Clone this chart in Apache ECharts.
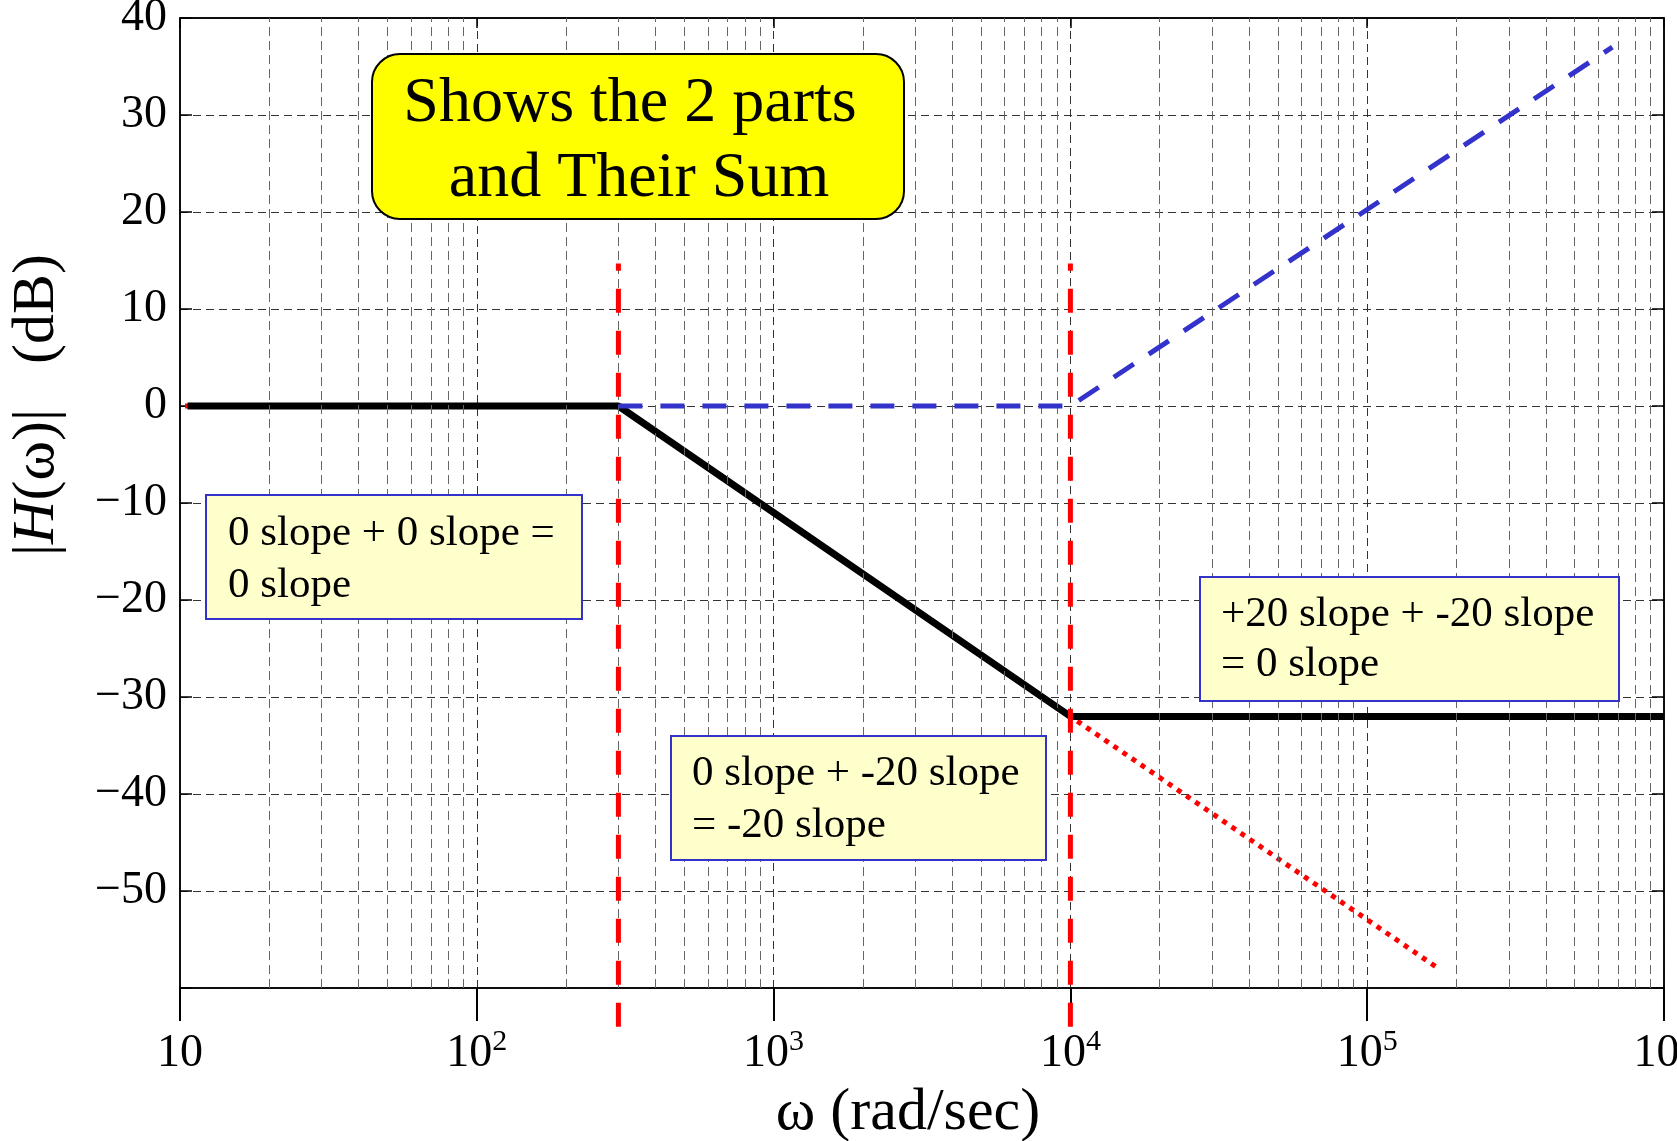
<!DOCTYPE html>
<html>
<head>
<meta charset="utf-8">
<title>Asymptotic magnitude plot</title>
<script src="https://cdn.jsdelivr.net/npm/echarts@6/dist/echarts.min.js"></script>
<style>
  html, body { margin: 0; padding: 0; background: #fff; }
  #chart { width: 1677px; height: 1141px; }
</style>
</head>
<body>
<div id="chart"></div>
<script>
// Sum of the two asymptotes (solid black)
const sumOmega = [10.6, 300, 1e4, 1e6];
const sumDb = [0, 0, -32, -32];
// Low-pass part (red dotted)
const lowOmega = [10.4, 300, 1e4, 1.74e5];
const lowDb = [0, 0, -32, -58];
// High-pass part (blue dashed)
const highOmega = [300, 1e4, 6.7e5];
const highDb = [0, 0, 37];
// Corner frequencies and the vertical extent of their markers (dB)
const cornerOmega = [300, 1e4];
const cornerDb = [-64, 14.7];
// Axis ranges
const decades = [10, 100, 1000, 1e4, 1e5, 1e6];
const yMin = -60, yMax = 40, yStep = 10;

const SERIF = '"Liberation Serif", "Times New Roman", serif';

const pairs = (xs, ys) => xs.map((x, i) => [x, ys[i]]);

// Minor log gridlines at 2..9 x 10^n
const minorGrid = [];
for (let d = 0; d < decades.length - 1; d++) {
  for (let k = 2; k <= 9; k++) minorGrid.push({ xAxis: k * decades[d] });
}

const chart = echarts.init(document.getElementById('chart'), null, { renderer: 'canvas' });

const gridDash = { type: [8, 5], color: '#333', width: 1 };

const option = {
  animation: false,
  backgroundColor: '#fff',
  grid: {
    left: 180, right: 13, top: 18, bottom: 153,
    containLabel: false, outerBoundsMode: 'none',
    show: true, borderColor: '#000', borderWidth: 1.5, backgroundColor: 'transparent'
  },
  xAxis: [{
    type: 'log', logBase: 10, min: decades[0], max: decades[decades.length - 1],
    splitNumber: 5,
    axisLine: { show: true, onZero: false, lineStyle: { color: '#000', width: 1.5 } },
    axisTick: { show: true, inside: false, length: 33, lineStyle: { color: '#000', width: 2 } },
    axisLabel: {
      margin: 39,
      formatter: function (v) {
        const e = Math.round(Math.log10(v));
        return e === 1 ? '{b|10}' : '{b|10}{s|' + e + '}';
      },
      rich: {
        b: { fontFamily: SERIF, fontSize: 46, lineHeight: 50, color: '#000', verticalAlign: 'bottom' },
        s: { fontFamily: SERIF, fontSize: 30, lineHeight: 30, color: '#000', verticalAlign: 'top' }
      }
    },
    splitLine: { show: true, lineStyle: gridDash }
  }, {
    type: 'log', logBase: 10, min: decades[0], max: decades[decades.length - 1],
    splitNumber: 5, position: 'top',
    axisLine: { show: true, onZero: false, lineStyle: { color: '#000', width: 1.5 } },
    axisTick: { show: true, inside: true, length: 10, lineStyle: { color: '#000', width: 1.5 } },
    axisLabel: { show: false },
    splitLine: { show: false }
  }],
  yAxis: [{
    type: 'value', min: yMin, max: yMax, interval: yStep,
    axisLine: { show: true, onZero: false, lineStyle: { color: '#000', width: 1.5 } },
    axisTick: { show: true, inside: true, length: 12, lineStyle: { color: '#000', width: 1.5 } },
    axisLabel: {
      margin: 13, fontFamily: SERIF, fontSize: 46, color: '#000',
      formatter: v => v === yMin ? '' : (v < 0 ? '\u2212' + (-v) : String(v))
    },
    splitLine: { show: true, lineStyle: gridDash }
  }, {
    type: 'value', min: yMin, max: yMax, interval: yStep, position: 'right',
    axisLine: { show: true, onZero: false, lineStyle: { color: '#000', width: 1.5 } },
    axisTick: { show: true, inside: true, length: 12, lineStyle: { color: '#000', width: 1.5 } },
    axisLabel: { show: false },
    splitLine: { show: false }
  }],
  series: [
    {
      // minor log gridlines
      type: 'line', data: [], silent: true,
      markLine: {
        silent: true, animation: false, symbol: ['none', 'none'],
        label: { show: false },
        lineStyle: { type: [9, 5], color: '#666', width: 1 },
        data: minorGrid
      },
      z: 1
    },
    {
      name: 'low', type: 'line', data: pairs(lowOmega, lowDb), symbol: 'none',
      lineStyle: { color: '#ff0000', width: 5, type: [5, 6], cap: 'butt' }, z: 3
    },
    {
      name: 'sum', type: 'line', data: pairs(sumOmega, sumDb), symbol: 'none',
      lineStyle: { color: '#000', width: 7, type: 'solid' }, z: 4
    },
    {
      name: 'high', type: 'line', data: pairs(highOmega, highDb), symbol: 'none',
      lineStyle: { color: '#3333cc', width: 5, type: [24, 18], cap: 'butt' }, z: 5
    },
    ...cornerOmega.map(w => ({
      type: 'line', data: [[w, cornerDb[0]], [w, cornerDb[1]]], symbol: 'none', clip: false,
      lineStyle: { color: '#ff0000', width: 5, type: [24, 18], cap: 'butt' }, z: 6
    }))
  ],
  graphic: [
    // title box
    { type: 'rect', shape: { x: 372, y: 54, width: 532, height: 165, r: 28 },
      style: { fill: '#ffff00', stroke: '#000', lineWidth: 2 }, z: 100 },
    { type: 'text', x: 630, y: 104, z: 101,
      style: { text: 'Shows the 2 parts', font: '64px ' + SERIF, fill: '#000', textAlign: 'center', textVerticalAlign: 'middle' } },
    { type: 'text', x: 639, y: 179, z: 101,
      style: { text: 'and Their Sum', font: '64px ' + SERIF, fill: '#000', textAlign: 'center', textVerticalAlign: 'middle' } },

    // region notes
    { type: 'rect', shape: { x: 206, y: 495, width: 376, height: 124 },
      style: { fill: '#ffffcc', stroke: '#3333cc', lineWidth: 2 }, z: 100 },
    { type: 'text', x: 228, y: 534, z: 101,
      style: { text: '0 slope + 0 slope =', font: '43px ' + SERIF, fill: '#000', textAlign: 'left', textVerticalAlign: 'middle' } },
    { type: 'text', x: 228, y: 586, z: 101,
      style: { text: '0 slope', font: '43px ' + SERIF, fill: '#000', textAlign: 'left', textVerticalAlign: 'middle' } },

    { type: 'rect', shape: { x: 671, y: 736, width: 375, height: 124 },
      style: { fill: '#ffffcc', stroke: '#3333cc', lineWidth: 2 }, z: 100 },
    { type: 'text', x: 692, y: 774, z: 101,
      style: { text: '0 slope + -20 slope', font: '43px ' + SERIF, fill: '#000', textAlign: 'left', textVerticalAlign: 'middle' } },
    { type: 'text', x: 692, y: 826, z: 101,
      style: { text: '= -20 slope', font: '43px ' + SERIF, fill: '#000', textAlign: 'left', textVerticalAlign: 'middle' } },

    { type: 'rect', shape: { x: 1200, y: 577, width: 419, height: 124 },
      style: { fill: '#ffffcc', stroke: '#3333cc', lineWidth: 2 }, z: 100 },
    { type: 'text', x: 1221, y: 615, z: 101,
      style: { text: '+20 slope + -20 slope', font: '43px ' + SERIF, fill: '#000', textAlign: 'left', textVerticalAlign: 'middle' } },
    { type: 'text', x: 1221, y: 665, z: 101,
      style: { text: '= 0 slope', font: '43px ' + SERIF, fill: '#000', textAlign: 'left', textVerticalAlign: 'middle' } },

    // axis titles
    { type: 'text', x: 908, y: 1113, z: 101,
      style: { text: '\u03C9 (rad/sec)', font: '60px ' + SERIF, fill: '#000', textAlign: 'center', textVerticalAlign: 'middle' } },
    { type: 'text', x: 37, y: 405, rotation: Math.PI / 2, z: 101,
      style: {
        text: '{n||}{i|H}{n|(\u03C9)|   (dB)}',
        textAlign: 'center', textVerticalAlign: 'middle',
        rich: {
          n: { fontFamily: SERIF, fontSize: 60, fill: '#000', color: '#000' },
          i: { fontFamily: SERIF, fontSize: 60, fontStyle: 'italic', fill: '#000', color: '#000' }
        }
      } }
  ]
};

chart.setOption(option);
</script>
</body>
</html>
